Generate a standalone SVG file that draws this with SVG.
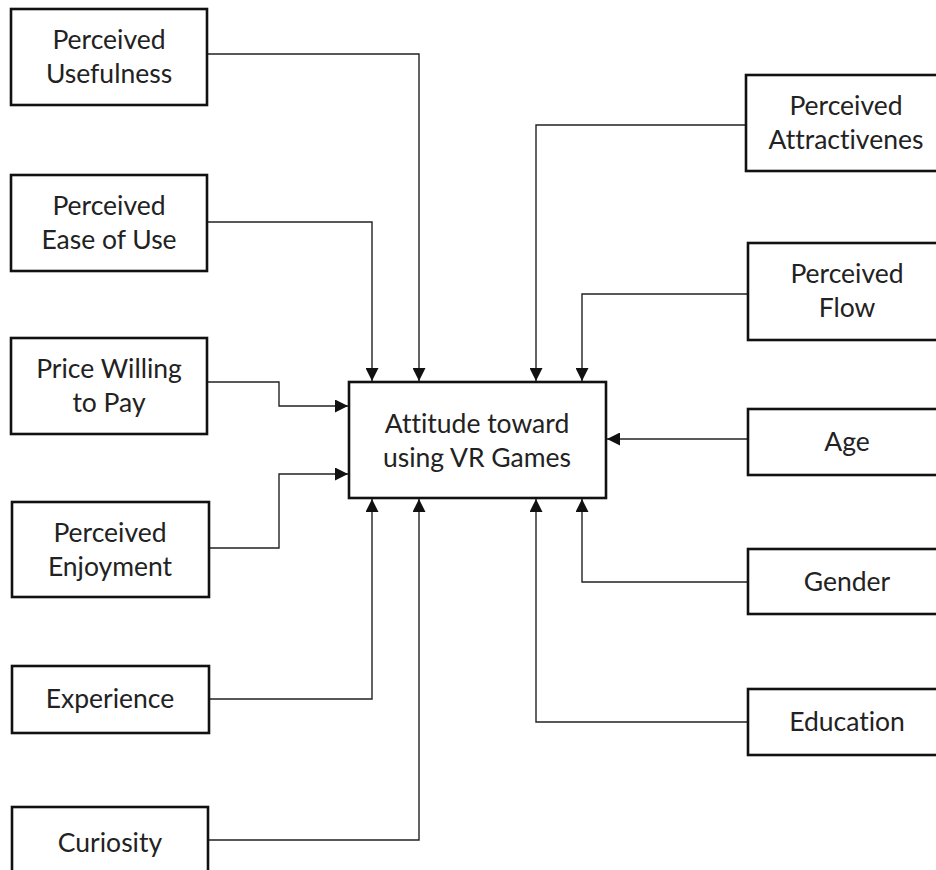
<svg xmlns="http://www.w3.org/2000/svg" width="936" height="870" viewBox="0 0 936 870">
<defs>
<style>
.box{fill:#fff;stroke:#111;stroke-width:2.6}
.lbl{font-family:Lato,"Liberation Sans",sans-serif;font-size:26.5px;fill:#222;text-anchor:middle;font-variant-ligatures:none;font-feature-settings:"liga" 0}
.con{fill:none;stroke:#222;stroke-width:1.4}
</style>
<marker id="ah" viewBox="0 0 10 10" refX="10" refY="5" markerUnits="userSpaceOnUse" markerWidth="14" markerHeight="13" orient="auto">
<path d="M0,0 L10,5 L0,10 z" fill="#111"/>
</marker>
</defs>
<rect width="936" height="870" fill="#fff"/>
<g id="connectors">
<path class="con" d="M207,54 H419 V381" marker-end="url(#ah)"/>
<path class="con" d="M207,222 H372 V381" marker-end="url(#ah)"/>
<path class="con" d="M207,382 H279 V406 H348" marker-end="url(#ah)"/>
<path class="con" d="M209,548 H279 V474 H348" marker-end="url(#ah)"/>
<path class="con" d="M209,699 H372 V499" marker-end="url(#ah)"/>
<path class="con" d="M208,840 H419 V499" marker-end="url(#ah)"/>
<path class="con" d="M746,125 H536 V381" marker-end="url(#ah)"/>
<path class="con" d="M748,294 H582 V381" marker-end="url(#ah)"/>
<path class="con" d="M748,439 H607" marker-end="url(#ah)"/>
<path class="con" d="M748,582 H582 V499" marker-end="url(#ah)"/>
<path class="con" d="M748,722 H536 V499" marker-end="url(#ah)"/>
</g>
<g id="attitude">
<rect class="box" x="349" y="382" width="257" height="116"/>
<text class="lbl" x="477" y="433">Attitude toward</text>
<text class="lbl" x="477" y="467">using VR Games</text>
</g>
<g id="usefulness">
<rect class="box" x="11" y="9" width="196" height="96"/>
<text class="lbl" x="109" y="49">Perceived</text>
<text class="lbl" x="109" y="83">Usefulness</text>
</g>
<g id="ease">
<rect class="box" x="11" y="175" width="196" height="96"/>
<text class="lbl" x="109" y="215">Perceived</text>
<text class="lbl" x="109" y="249">Ease of Use</text>
</g>
<g id="price">
<rect class="box" x="11" y="338" width="196" height="96"/>
<text class="lbl" x="109" y="378">Price Willing</text>
<text class="lbl" x="109" y="412">to Pay</text>
</g>
<g id="enjoyment">
<rect class="box" x="12" y="502" width="197" height="95"/>
<text class="lbl" x="110" y="542">Perceived</text>
<text class="lbl" x="110" y="576">Enjoyment</text>
</g>
<g id="experience">
<rect class="box" x="12" y="666" width="197" height="67"/>
<text class="lbl" x="110" y="708">Experience</text>
</g>
<g id="curiosity">
<rect class="box" x="12" y="807" width="196" height="70"/>
<text class="lbl" x="110" y="852">Curiosity</text>
</g>
<g id="attractiveness">
<rect class="box" x="746" y="75" width="200" height="96"/>
<text class="lbl" x="846" y="115">Perceived</text>
<text class="lbl" x="846" y="149">Attractivenes</text>
</g>
<g id="flow">
<rect class="box" x="748" y="243" width="200" height="97"/>
<text class="lbl" x="847" y="283">Perceived</text>
<text class="lbl" x="847" y="317">Flow</text>
</g>
<g id="age">
<rect class="box" x="748" y="409" width="200" height="66"/>
<text class="lbl" x="847" y="451">Age</text>
</g>
<g id="gender">
<rect class="box" x="748" y="549" width="200" height="65"/>
<text class="lbl" x="847" y="591">Gender</text>
</g>
<g id="education">
<rect class="box" x="748" y="689" width="200" height="66"/>
<text class="lbl" x="847" y="731">Education</text>
</g>
</svg>
